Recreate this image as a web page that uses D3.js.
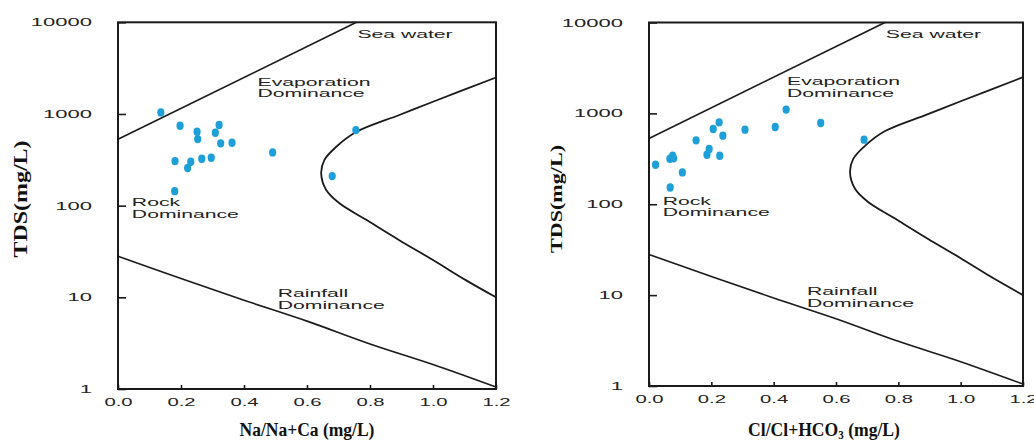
<!DOCTYPE html>
<html><head><meta charset="utf-8">
<script src="https://cdn.jsdelivr.net/npm/d3@7"></script>
<style>body{margin:0;background:#fff}svg{display:block}</style>
</head><body>
<svg id="chart" width="1034" height="444"></svg>
<script>
// ---- data ----
const xTicks = [0, 0.2, 0.4, 0.6, 0.8, 1.0, 1.2];
const yTicks = [1, 10, 100, 1000, 10000];

const naRatio = [0.136,0.197,0.251,0.253,0.321,0.309,0.326,0.362,0.181,0.231,0.221,0.266,0.296,0.180,0.491,0.755,0.680];
const tdsNa   = [1040,743,640,532,757,624,478,485,306,301,257,325,333,144,381,667,210];

const clRatio = [0.021,0.067,0.076,0.079,0.107,0.068,0.151,0.186,0.193,0.227,0.206,0.225,0.237,0.308,0.405,0.440,0.551,0.690];
const tdsCl   = [272,317,342,320,224,153,505,351,406,342,674,797,569,662,709,1100,785,514];

// Gibbs boundary curves (ratio, TDS)
const seaLine  = [[0,530],[0.757,10000]];
const rainLine = [[0,28],[0.2,16],[0.4,9.3],[0.6,5.5],[0.8,3.1],[1.0,1.85],[1.2,1.05]];
const rockCurve = [[1.2,2500],[1.0,1360],[0.893,975],[0.756,635],[0.693,439],[0.655,314],[0.645,225],
                   [0.661,148],[0.703,106],[0.788,70],[0.893,42],[1.0,25.5],[1.104,15.4],[1.2,10]];

const zoneLabels = [
  {lines:["Sea water"], x:0.76, y:6800},
  {lines:["Evaporation","Dominance"], x:0.443, y:2040},
  {lines:["Rock","Dominance"], x:0.044, y:99},
  {lines:["Rainfall","Dominance"], x:0.507, y:10}
];

const panels = [
  {xs:naRatio, ys:tdsNa, left:118, right:496, bottom:389, top:22.3,
   title:[{t:"Na/Na+Ca (mg/L)"}], titleX:307, titleW:135, yTitleX:21, yTitleSize:19, yTitleLen:117},
  {xs:clRatio, ys:tdsCl, left:649, right:1023, bottom:386, top:22.5,
   title:[{t:"Cl/Cl+HCO"},{t:"3",sub:true},{t:" (mg/L)"}], titleX:824, titleW:152, yTitleX:556, yTitleSize:16.5, yTitleLen:108}
];

const svg = d3.select("#chart");
const SANS = "'Liberation Sans', Arial, sans-serif";
const SERIF = "'Liberation Serif', 'Times New Roman', serif";
const INK = "#1a1a1a";

function stretch(sel, f){
  sel.each(function(){
    const w = this.getComputedTextLength();
    d3.select(this).attr("textLength", w*f).attr("lengthAdjust","spacingAndGlyphs");
  });
}

panels.forEach(p => {
  const x = d3.scaleLinear().domain([0,1.2]).range([p.left, p.right]);
  const y = d3.scaleLog().domain([1,10000]).range([p.bottom, p.top]);
  const g = svg.append("g");

  // axes
  const yAx = g.append("g").attr("transform",`translate(${p.left},0)`)
    .call(d3.axisLeft(y).tickValues(yTicks).tickSize(-8).tickPadding(26).tickFormat(d3.format("d")));
  const xAx = g.append("g").attr("transform",`translate(0,${p.bottom})`)
    .call(d3.axisBottom(x).tickValues(xTicks).tickSize(-4).tickPadding(9).tickFormat(d3.format(".1f")));
  [yAx,xAx].forEach(a => {
    a.select(".domain").remove();
    a.selectAll(".tick line").attr("stroke",INK).attr("stroke-width",1.6);
    a.selectAll("text").attr("font-family",SANS).attr("font-size",11).attr("fill","#222");
  });
  stretch(xAx.selectAll("text"), 1.84);
  stretch(yAx.selectAll("text"), 2.0);

  // frame
  g.append("rect").attr("x",p.left).attr("y",p.top)
    .attr("width",p.right-p.left).attr("height",p.bottom-p.top)
    .attr("fill","none").attr("stroke",INK).attr("stroke-width",2);

  // boundaries
  const line = d3.line().x(d=>x(d[0])).y(d=>y(d[1]));
  const curve = d3.line().x(d=>x(d[0])).y(d=>y(d[1])).curve(d3.curveCatmullRom.alpha(0.5));
  [seaLine, rainLine].forEach(L => g.append("path").attr("d", (L.length>2?curve:line)(L))
      .attr("fill","none").attr("stroke",INK).attr("stroke-width",1.6));
  g.append("path").attr("d", curve(rockCurve))
    .attr("fill","none").attr("stroke",INK).attr("stroke-width",1.8);

  // zone labels
  zoneLabels.forEach(z => {
    const t = g.append("text").attr("font-family",SANS).attr("font-size",11.5).attr("fill","#222");
    z.lines.forEach((s,i) => t.append("tspan").attr("x",x(z.x)).attr("y",y(z.y)+i*11.5).text(s));
    t.selectAll("tspan").each(function(){
      const w = this.getComputedTextLength();
      d3.select(this).attr("textLength", w*1.84).attr("lengthAdjust","spacingAndGlyphs");
    });
  });

  // points
  g.selectAll("ellipse.pt").data(p.xs.map((v,i)=>[v,p.ys[i]])).enter()
    .append("ellipse").attr("class","pt")
    .attr("cx",d=>x(d[0])).attr("cy",d=>y(d[1])).attr("rx",3.6).attr("ry",4.2)
    .attr("fill","#1e9fd8");

  // x title (scaled horizontally to match width)
  const tg = svg.append("g");
  const xt = tg.append("text").attr("x",0).attr("y",0).attr("text-anchor","middle")
    .attr("font-family",SERIF).attr("font-weight","bold").attr("font-size",18.5).attr("fill","#111");
  p.title.forEach((s,i) => {
    const ts = xt.append("tspan").text(s.t);
    if (s.sub) ts.attr("font-size",11.5).attr("dy",3.5);
    else if (i>0) ts.attr("dy",-3.5);
  });
  const bw = xt.node().getBBox().width;
  tg.attr("transform",`translate(${p.titleX},435.5) scale(${p.titleW/bw},1)`);

  svg.append("text").attr("transform",`translate(${p.yTitleX+6},199) rotate(-90)`)
    .attr("text-anchor","middle").attr("font-family",SERIF).attr("font-weight","bold")
    .attr("font-size",p.yTitleSize).attr("fill","#111")
    .attr("textLength",p.yTitleLen).attr("lengthAdjust","spacingAndGlyphs")
    .text("TDS(mg/L)");
});
</script>
</body></html>
